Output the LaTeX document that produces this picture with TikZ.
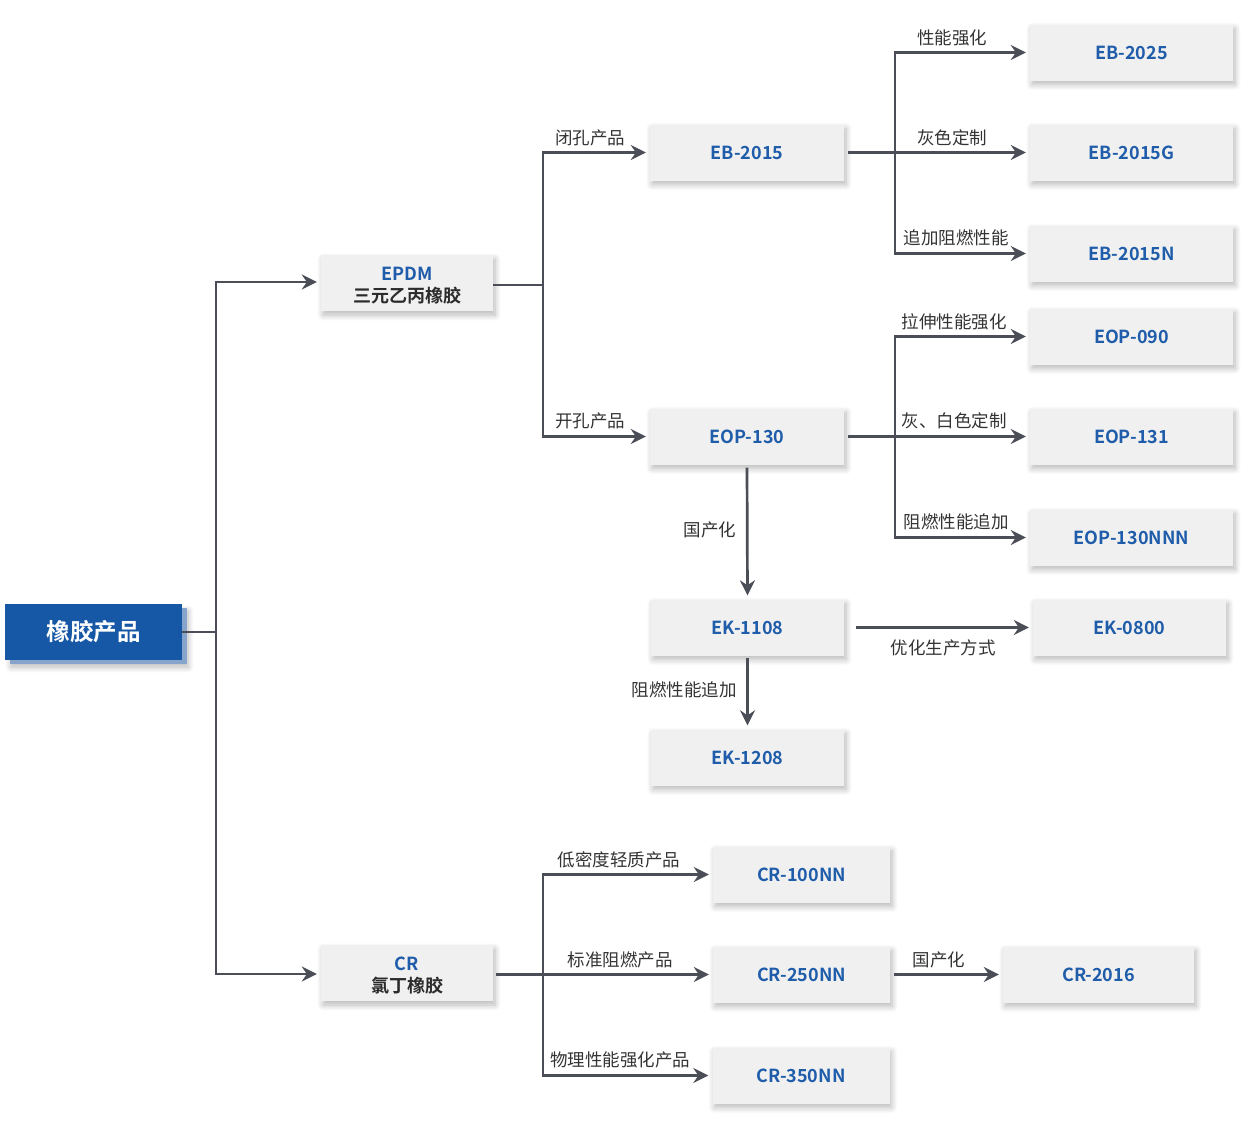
\documentclass[tikz,border=0pt]{standalone}
\usepackage{fontspec}
\setmainfont{Noto Sans CJK SC}[BoldFont={* Bold}]
\usetikzlibrary{arrows.meta,shadows,shadows.blur}
\definecolor{lnc}{HTML}{4B4E57}
\definecolor{bluet}{HTML}{1F5DAA}
\definecolor{rootb}{HTML}{1758A6}
\definecolor{rootsh}{HTML}{86A4CC}
\definecolor{boxf}{HTML}{F0F0F0}
\definecolor{lblc}{HTML}{333333}
\definecolor{darkt}{HTML}{2B2B2B}
\tikzset{
  box/.style={fill=boxf, minimum width=#1, minimum height=56pt, inner sep=0pt,
    font=\bfseries\fontsize{18}{22}\selectfont, text=bluet, align=center,
    blur shadow={shadow xshift=2pt, shadow yshift=-4pt, shadow blur radius=6pt, shadow opacity=28, shadow blur steps=8}},
  box/.default=194pt,
  rootbox/.style={fill=rootb, minimum width=177pt, minimum height=56pt, inner sep=0pt,
    font=\bfseries\fontsize{23.5}{26}\selectfont, text=white,
    blur shadow={shadow xshift=6pt, shadow yshift=-7pt, shadow blur radius=6pt, shadow opacity=28, shadow blur steps=8},
    drop shadow={shadow xshift=5pt, shadow yshift=-4pt, fill=rootsh, opacity=1}},
  lbl/.style={font=\fontsize{17.5}{20}\selectfont, text=lblc, inner sep=0pt},
  ln/.style={draw=lnc, line width=2.7pt},
  arr/.style={ln, -{Stealth[length=15pt,width=15pt,inset=5pt]}, shorten >=4pt},
}
\begin{document}
\begin{tikzpicture}[x=1pt,y=-1pt]
\useasboundingbox (0,0) rectangle (1250,1125);
% nodes
\node[rootbox] (root) at (93.5,632) {橡胶产品};
\node[box=172pt] (epdm) at (407,283) {\rule{0pt}{19pt}EPDM\\{\color{darkt}三元乙丙橡胶}};
\node[box=172pt] (cr) at (407,973) {\rule{0pt}{19pt}CR\\{\color{darkt}氯丁橡胶}};
\node[box] (eb2015) at (747,152.5) {EB-2015};
\node[box] (eop130) at (747,436.5) {EOP-130};
\node[box=193pt] (ek1108) at (747.5,627.5) {EK-1108};
\node[box=193pt] (ek1208) at (747.5,757.5) {EK-1208};
\node[box=203pt] (eb2025) at (1131.5,52.5) {EB-2025};
\node[box=203pt] (eb2015g) at (1131.5,152.5) {EB-2015G};
\node[box=203pt] (eb2015n) at (1131.5,253.5) {EB-2015N};
\node[box=203pt] (eop090) at (1131.5,336.5) {EOP-090};
\node[box=203pt] (eop131) at (1131.5,436.5) {EOP-131};
\node[box=203pt] (eop130nnn) at (1131.5,537.5) {EOP-130NNN};
\node[box=193pt] (ek0800) at (1129.5,627.5) {EK-0800};
\node[box=177pt] (cr100) at (801.5,874.5) {CR-100NN};
\node[box=177pt] (cr250) at (801.5,974.5) {CR-250NN};
\node[box=177pt] (cr350) at (801,1075.5) {CR-350NN};
\node[box=191pt] (cr2016) at (1098.5,974.5) {CR-2016};
% junctions
\coordinate (j0) at (216,632);
\coordinate (j1) at (543,285);
\coordinate (j2) at (895,152.5);
\coordinate (j3) at (895,436.5);
\coordinate (j4) at (543,974.5);
% connectors
\draw[ln] (root.east) -- (j0);
\draw[arr] (j0) |- ([yshift=1pt]epdm.west);
\draw[arr] (j0) |- ([yshift=-1pt]cr.west);
\draw[ln] (epdm.east |- j1) -- (j1);
\draw[arr] (j1) |- (eb2015.west);
\draw[arr] (j1) |- (eop130.west);
\draw[ln, shorten <=4pt] (eb2015.east) -- (j2);
\draw[arr] (j2) |- (eb2025.west);
\draw[arr] (j2) -- (eb2015g.west);
\draw[arr] (j2) |- (eb2015n.west);
\draw[ln, shorten <=4pt] (eop130.east) -- (j3);
\draw[arr] (j3) |- (eop090.west);
\draw[arr] (j3) -- (eop131.west);
\draw[arr] (j3) |- (eop130nnn.west);
\draw[arr, shorten <=3pt] (eop130.south) -- (ek1108.north);
\draw[arr, shorten <=12pt] (ek1108.east) -- (ek0800.west);
\draw[arr, shorten <=2pt] (ek1108.south) -- (ek1208.north);
\draw[ln, shorten <=3pt] (cr.east |- j4) -- (j4);
\draw[arr] (j4) |- (cr100.west);
\draw[arr] (j4) -- (cr250.west);
\draw[arr] (j4) |- (cr350.west);
\draw[arr, shorten <=4pt] (cr250.east) -- (cr2016.west);
% labels
\node[lbl] (l1) at (590,138) {闭孔产品};
\node[lbl] (l2) at (590,421) {开孔产品};
\node[lbl] (l3) at (952,38) {性能强化};
\node[lbl] (l4) at (952,138) {灰色定制};
\node[lbl] (l5) at (956,238) {追加阻燃性能};
\node[lbl] (l6) at (954,322) {拉伸性能强化};
\node[lbl] (l7) at (954,421) {灰、白色定制};
\node[lbl] (l8) at (956,522) {阻燃性能追加};
\node[lbl] (l9) at (710,530) {国产化};
\node[lbl] (l10) at (943,648) {优化生产方式};
\node[lbl] (l11) at (684,690) {阻燃性能追加};
\node[lbl] (l12) at (619,860) {低密度轻质产品};
\node[lbl] (l13) at (620,960) {标准阻燃产品};
\node[lbl] (l14) at (620,1060) {物理性能强化产品};
\node[lbl] (l15) at (939,960) {国产化};
\end{tikzpicture}
\end{document}
